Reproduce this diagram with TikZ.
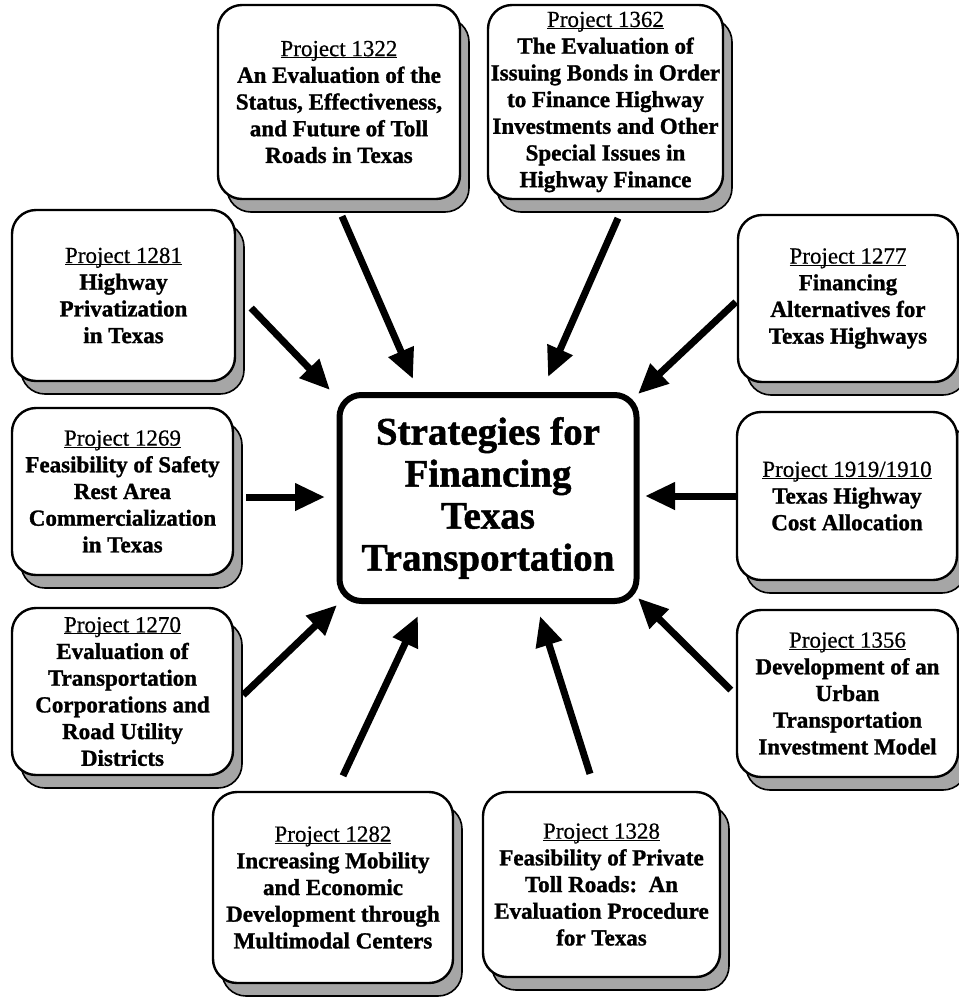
\documentclass[tikz,border=0pt]{standalone}
\usepackage{fontspec}
\setmainfont{Liberation Serif}[UprightFeatures={FakeBold=0.5}, BoldFeatures={FakeBold=1.2}]
\usetikzlibrary{arrows.meta, shadows}
\newcommand{\projhead}[1]{{\mdseries\underline{\smash{Project #1}}\vphantom{Project #1}}\\}
\tikzset{
  project/.style={
    draw, rectangle, rounded corners=24pt,
    fill=white, align=center, inner sep=0pt,
    line width=2.4pt,
    font=\fontsize{23}{26.7}\selectfont\bfseries,
    drop shadow={shadow xshift=9pt, shadow yshift=-13pt,
      opacity=1, fill=black!35, draw=black, line width=1.6pt}
  },
  hub/.style={
    draw, rectangle, rounded corners=22pt,
    fill=white, align=center, inner sep=0pt,
    line width=6pt,
    minimum width=297pt, minimum height=206pt,
    font=\fontsize{39}{42}\selectfont\bfseries
  },
  feed/.style={-{Triangle[length=30pt, width=26pt]}, line width=7pt}
}

\begin{document}
\begin{tikzpicture}[x=1pt, y=-1pt]
  \useasboundingbox (0,0) rectangle (959,997);

  % Centre
  \node[hub] (hub) at (488,498) {Strategies for\\Financing\\Texas\\Transportation};

  % Top row
  \node[project, minimum width=242pt, minimum height=194pt] (p1322) at (339,102)
    {\projhead{1322}An Evaluation of the\\Status, Effectiveness,\\and Future of Toll\\Roads in Texas};
  \node[project, minimum width=235pt, minimum height=194pt] (p1362) at (605.5,102)
    {\projhead{1362}The Evaluation of\\Issuing Bonds in Order\\to Finance Highway\\Investments and Other\\Special Issues in\\Highway Finance};

  % Left column
  \node[project, minimum width=223pt, minimum height=171pt] (p1281) at (123.5,295.5)
    {\projhead{1281}Highway\\Privatization\\in Texas};
  \node[project, minimum width=221pt, minimum height=167pt] (p1269) at (122.5,491.5)
    {\projhead{1269}Feasibility of Safety\\Rest Area\\Commercialization\\in Texas};
  \node[project, minimum width=221pt, minimum height=167pt] (p1270) at (122.5,691.5)
    {\projhead{1270}Evaluation of\\Transportation\\Corporations and\\Road Utility\\Districts};

  % Right column
  \node[project, minimum width=220pt, minimum height=167pt] (p1277) at (848,298.5)
    {\projhead{1277}Financing\\Alternatives for\\Texas Highways};
  \node[project, minimum width=220pt, minimum height=168pt] (p1919) at (847,496)
    {\projhead{1919/1910}Texas Highway\\Cost Allocation};
  \node[project, minimum width=221pt, minimum height=167pt] (p1356) at (847.5,693.5)
    {\projhead{1356}Development of an\\Urban\\Transportation\\Investment Model};

  % Bottom row
  \node[project, minimum width=240pt, minimum height=191pt] (p1282) at (333,887.5)
    {\projhead{1282}Increasing Mobility\\and Economic\\Development through\\Multimodal Centers};
  \node[project, minimum width=237pt, minimum height=185pt] (p1328) at (601.5,884.5)
    {\projhead{1328}Feasibility of Private\\Toll Roads:\ \ An\\Evaluation Procedure\\for Texas};

  % Arrows into the centre
  \draw[feed] ([shift={(3,16)}]p1322.south)     -- ([shift={(-75,-13)}]hub.north);
  \draw[feed] ([shift={(12.5,18)}]p1362.south)  -- ([shift={(60,-15)}]hub.north);
  \draw[feed] ([shift={(15,12.5)}]p1281.east)   -- ([shift={(-6.5,-2)}]hub.north west);
  \draw[feed] ([shift={(-1,3.5)}]p1277.west)    -- ([shift={(-1.5,2)}]hub.north east);
  \draw[feed] ([shift={(12,5.5)}]p1269.east)    -- ([shift={(-11.5,-1)}]hub.west);
  \draw[feed] (p1919.west)                      -- ([shift={(5.5,-2)}]hub.east);
  \draw[feed] ([shift={(9,3.5)}]p1270.east)     -- ([shift={(0.5,1)}]hub.south west);
  \draw[feed] ([shift={(10,-15)}]p1282.north)   -- ([shift={(-70,12)}]hub.south);
  \draw[feed] ([shift={(-11.5,-17)}]p1328.north) -- ([shift={(52,12)}]hub.south);
  \draw[feed] ([shift={(-5,-3.5)}]p1356.west)   -- ([shift={(-1.5,-6)}]hub.south east);
\end{tikzpicture}
\end{document}
